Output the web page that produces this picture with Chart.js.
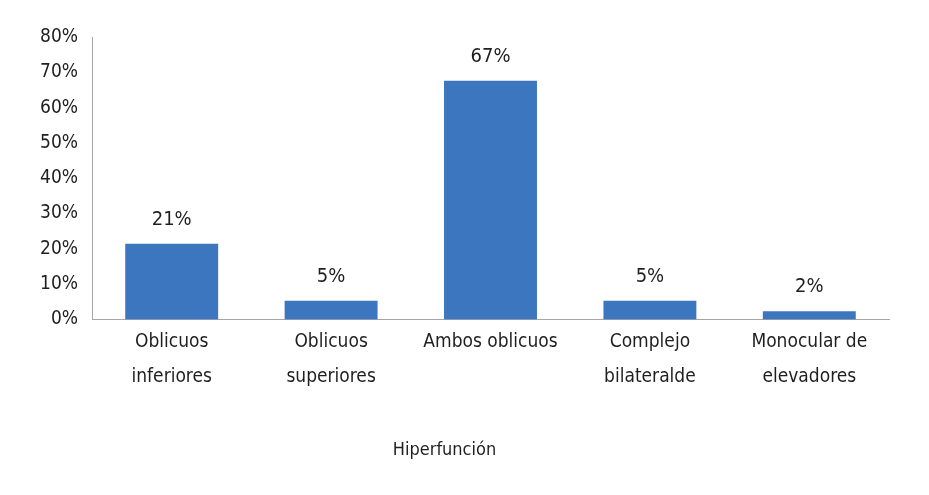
<!DOCTYPE html>
<html>
<head>
<meta charset="utf-8">
<script src="https://cdn.jsdelivr.net/npm/chart.js@4/dist/chart.umd.min.js"></script>
<style>
  html, body { margin: 0; padding: 0; background: #ffffff; }
  #wrap { width: 929px; height: 495px; position: relative; }
</style>
</head>
<body>
<div id="wrap"><canvas id="c" width="929" height="495"></canvas></div>
<script>
const categories = [
  ["Oblicuos", "inferiores"],
  ["Oblicuos", "superiores"],
  ["Ambos oblicuos"],
  ["Complejo", "bilateralde"],
  ["Monocular de", "elevadores"]
];
const values = [21.4, 5.3, 67.6, 5.3, 2.3];
const dataLabels = ["21%", "5%", "67%", "5%", "2%"];
const yTicks = [0, 10, 20, 30, 40, 50, 60, 70, 80];
const axisTitle = "Hiperfunción";

const FONT = "'Liberation Sans Narrow', 'DejaVu Sans Condensed', 'Liberation Sans', sans-serif";
const TEXT = "#1f1f1f";

const labelPlugin = {
  id: 'barLabels',
  afterDatasetsDraw(chart) {
    const ctx = chart.ctx;
    const meta = chart.getDatasetMeta(0);
    ctx.save();
    ctx.font = "20px " + FONT;
    ctx.fillStyle = TEXT;
    ctx.textAlign = 'center';
    ctx.textBaseline = 'bottom';
    meta.data.forEach((bar, i) => {
      ctx.fillText(dataLabels[i], bar.x, bar.y - 14);
    });
    ctx.restore();
  }
};

new Chart(document.getElementById('c'), {
  type: 'bar',
  data: {
    labels: categories,
    datasets: [{
      data: values,
      backgroundColor: '#3C76BE',
      borderWidth: 0,
      categoryPercentage: 1,
      barPercentage: 0.583
    }]
  },
  options: {
    responsive: false,
    animation: false,
    devicePixelRatio: 1,
    layout: { padding: { top: 37, right: 40, left: 0, bottom: 34 } },
    plugins: {
      legend: { display: false },
      tooltip: { enabled: false },
      title: {
        display: true,
        position: 'bottom',
        text: axisTitle,
        color: TEXT,
        font: { family: FONT, size: 18, weight: 'normal', lineHeight: 1.2 },
        padding: { top: 0, bottom: 0 }
      }
    },
    scales: {
      x: {
        grid: { display: false, drawTicks: false },
        border: { display: true, color: '#A6A6A6', width: 1 },
        ticks: {
          color: TEXT,
          font: { family: FONT, size: 19, lineHeight: 1.85 },
          padding: 5,
          maxRotation: 0,
          autoSkip: false
        },
        afterFit(scale) { scale.height = 120; }
      },
      y: {
        min: 0,
        max: 80,
        afterBuildTicks(scale) { scale.ticks = yTicks.map(v => ({ value: v })); },
        grid: { display: false, drawTicks: false },
        border: { display: true, color: '#A6A6A6', width: 1 },
        ticks: {
          color: TEXT,
          font: { family: FONT, size: 19 },
          padding: 14,
          callback: v => v + '%'
        },
        afterFit(scale) { scale.width = 92; }
      }
    }
  },
  plugins: [labelPlugin]
});
</script>
</body>
</html>
